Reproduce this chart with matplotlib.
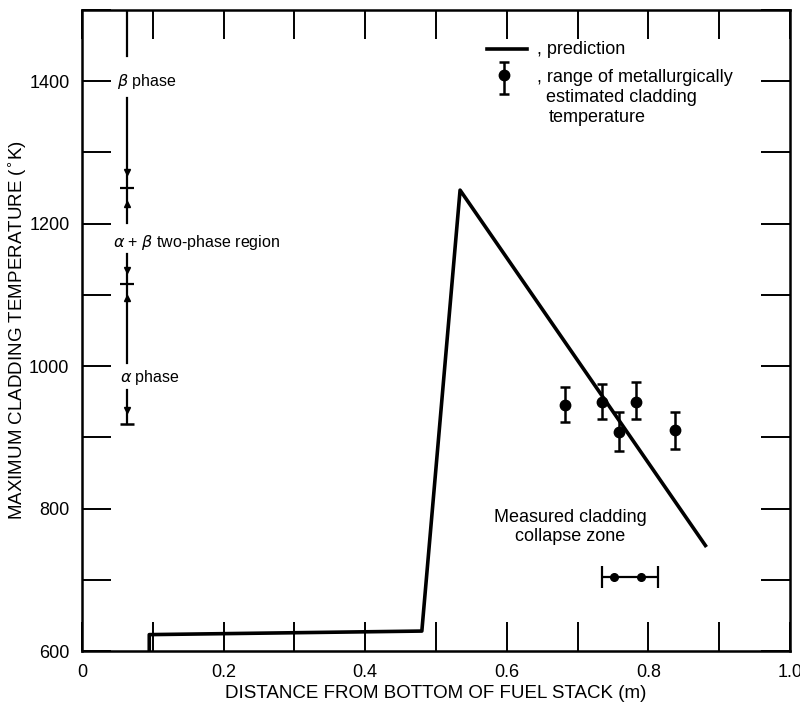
import matplotlib
matplotlib.use("Agg")
import matplotlib.pyplot as plt
from matplotlib.ticker import MultipleLocator

plt.rcParams['font.family'] = ['Liberation Sans', 'DejaVu Sans']

# predicted maximum cladding temperature along the stack
pred_x = [0.095, 0.095, 0.48, 0.534, 0.882]
pred_t = [600, 623, 628, 1247, 746]

# metallurgically estimated cladding temperature (with ranges)
meas_x = [0.682, 0.734, 0.759, 0.782, 0.838]
meas_t = [946, 950, 908, 950, 910]
meas_lo = [25, 25, 27, 25, 26]
meas_hi = [25, 25, 27, 28, 25]

# measured collapse zone
zone_x = [0.734, 0.814]
zone_marks = [0.752, 0.790]
zone_t = 704

# phase boundary annotations
phase_x = 0.063
beta_boundary = 1250
ab_boundary = 1115
alpha_low = 919

fig = plt.figure(figsize=(8, 7.08), dpi=100)
ax = fig.add_axes([0.1025, 0.0805, 0.885, 0.9055])

ax.plot(pred_x, pred_t, color='black', lw=2.6, solid_capstyle='butt')

ax.errorbar(meas_x, meas_t, yerr=[meas_lo, meas_hi], fmt='o', color='black',
            ms=7.5, elinewidth=1.8, capsize=3.5, capthick=1.8)

# collapse zone bracket
zc = sum(zone_x) / 2
ax.errorbar([zc], [zone_t], xerr=[[zc - zone_x[0]], [zone_x[1] - zc]], fmt='none',
            ecolor='black', elinewidth=1.6, capsize=8, capthick=1.6)
ax.plot(zone_marks, [zone_t] * len(zone_marks), 'o', color='black', ms=5.5)
ax.text(0.69, 774, 'Measured cladding\ncollapse zone',
        ha='center', va='center', fontsize=13, linespacing=1.15)

# phase markers at left
lc = dict(color='black', lw=1.6)
ax.plot([phase_x, phase_x], [1435, 1500], **lc)
ax.plot([phase_x, phase_x], [1201, 1376], **lc)
ax.plot([phase_x], [beta_boundary + 22], 'v', color='black', ms=5)
ax.plot([phase_x], [beta_boundary - 22], '^', color='black', ms=5)
ax.plot([phase_x], [beta_boundary], '_', color='black', ms=10, mew=1.6)
ax.plot([phase_x, phase_x], [1005, 1157], **lc)
ax.plot([phase_x], [ab_boundary + 20], 'v', color='black', ms=5)
ax.plot([phase_x], [ab_boundary - 20], '^', color='black', ms=5)
ax.plot([phase_x], [ab_boundary], '_', color='black', ms=10, mew=1.6)
ax.plot([phase_x, phase_x], [alpha_low, 966], **lc)
ax.plot([phase_x], [alpha_low + 20], 'v', color='black', ms=5)
ax.plot([phase_x], [alpha_low], '_', color='black', ms=10, mew=1.8)

ax.text(0.049, 1400, r'$\beta$ phase', fontsize=11.5, va='center')
ax.text(0.044, 1173, r'$\alpha$ + $\beta$ two-phase region', fontsize=11.5, va='center')
ax.text(0.053, 984, r'$\alpha$ phase', fontsize=11.5, va='center')

# key (drawn in axes fractions)
tr = ax.transAxes
ax.plot([0.572, 0.628], [0.939, 0.939], color='black', lw=2.6, transform=tr)
ax.errorbar([0.596], [0.899], yerr=[[0.03], [0.02]], fmt='o', color='black',
            ms=7.5, elinewidth=1.8, capsize=3.5, capthick=1.8, transform=tr)
ax.text(0.642, 0.939, ', prediction', transform=tr, fontsize=13, va='center')
ax.text(0.642, 0.894, ', range of metallurgically', transform=tr, fontsize=13, va='center')
ax.text(0.656, 0.863, 'estimated cladding', transform=tr, fontsize=13, va='center')
ax.text(0.659, 0.832, 'temperature', transform=tr, fontsize=13, va='center')

ax.set_xlim(0, 1.0)
ax.set_ylim(600, 1500)
ax.xaxis.set_major_locator(MultipleLocator(0.2))
ax.xaxis.set_minor_locator(MultipleLocator(0.1))
ax.yaxis.set_major_locator(MultipleLocator(200))
ax.yaxis.set_minor_locator(MultipleLocator(100))
ax.set_xticks([0, 0.2, 0.4, 0.6, 0.8, 1.0], ['0', '0.2', '0.4', '0.6', '0.8', '1.0'])
ax.tick_params(which='both', direction='in', length=21, width=1.4,
               top=True, right=True, labelsize=13)
ax.tick_params(axis='x', pad=9)
ax.tick_params(axis='y', pad=9)
for s in ax.spines.values():
    s.set_linewidth(1.8)

ax.set_xlabel('DISTANCE FROM BOTTOM OF FUEL STACK (m)', fontsize=13.5, labelpad=3)
ax.set_ylabel('MAXIMUM CLADDING TEMPERATURE ($^{\\circ}$K)', fontsize=13.5)
ax.yaxis.set_label_coords(-0.076, 0.5)

fig.savefig('out.png', dpi=100)
